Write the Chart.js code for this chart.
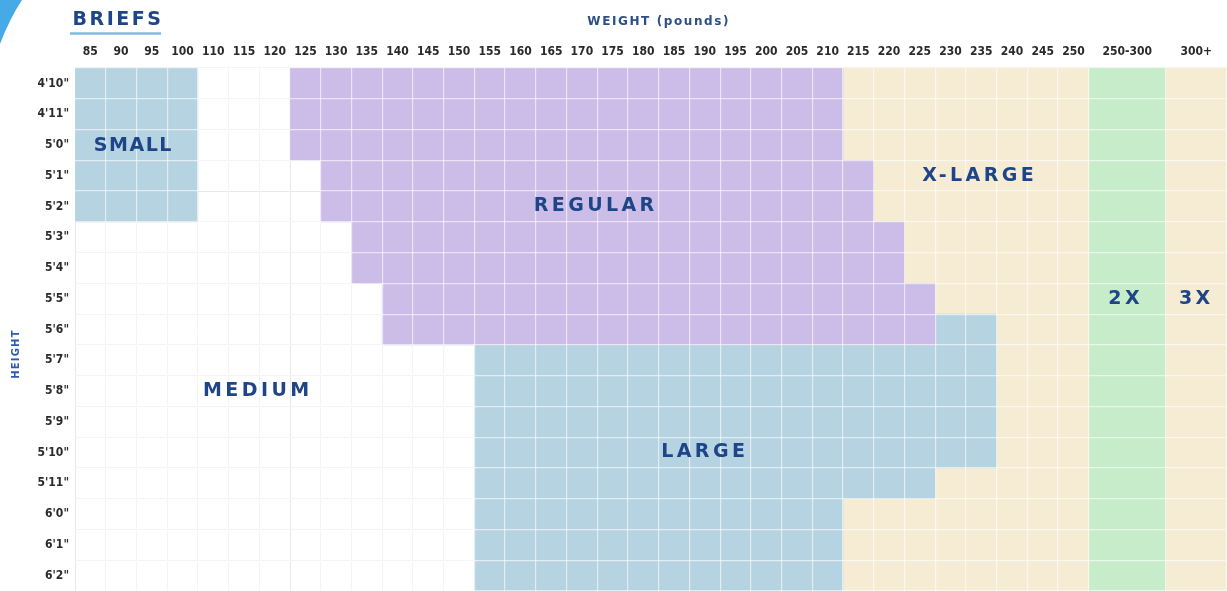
<!DOCTYPE html>
<html>
<head>
<meta charset="utf-8">
<title>Briefs size chart</title>
<script src="https://cdn.jsdelivr.net/npm/chart.js@4.4.1/dist/chart.umd.min.js"></script>
<style>
  html, body { margin: 0; padding: 0; background: #fff; }
  #wrap { width: 1227px; height: 591px; position: relative; }
</style>
</head>
<body>
<div id="wrap"><canvas id="sizeChart"></canvas></div>
<script>
// rows (top to bottom)
const heights = ["4'10\"", "4'11\"", "5'0\"", "5'1\"", "5'2\"", "5'3\"", "5'4\"", "5'5\"", "5'6\"",
  "5'7\"", "5'8\"", "5'9\"", "5'10\"", "5'11\"", "6'0\"", "6'1\"", "6'2\""];

// weight columns, left to right
const weightLabels = ['85', '90', '95', '100', '110', '115', '120', '125', '130', '135', '140', '145',
  '150', '155', '160', '165', '170', '175', '180', '185', '190', '195', '200', '205', '210', '215',
  '220', '225', '230', '235', '240', '245', '250', '250-300', '300+'];

// column edges in "column units" (the last two columns are wider)
const columnEdges = [0, 1, 2, 3, 4, 5, 6, 7, 8, 9, 10, 11, 12, 13, 14, 15, 16, 17, 18, 19, 20,
  21, 22, 23, 24, 25, 26, 27, 28, 29, 30, 31, 32, 33, 35.5, 37.5];

// size ranges per height row: [first column edge, last column edge]
const small = [[0, 4], [0, 4], [0, 4], [0, 4], [0, 4], null, null, null, null,
  null, null, null, null, null, null, null, null];
const medium = [[4, 7], [4, 7], [4, 7], [4, 8], [4, 8], [0, 9], [0, 9], [0, 10], [0, 10],
  [0, 13], [0, 13], [0, 13], [0, 13], [0, 13], [0, 13], [0, 13], [0, 13]];
const regular = [[7, 25], [7, 25], [7, 25], [8, 26], [8, 26], [9, 27], [9, 27], [10, 28], [10, 28],
  null, null, null, null, null, null, null, null];
const large = [null, null, null, null, null, null, null, null, [28, 30],
  [13, 30], [13, 30], [13, 30], [13, 30], [13, 28], [13, 25], [13, 25], [13, 25]];
const xLarge = [[25, 33], [25, 33], [25, 33], [26, 33], [26, 33], [27, 33], [27, 33], [28, 33], [30, 33],
  [30, 33], [30, 33], [30, 33], [30, 33], [28, 33], [25, 33], [25, 33], [25, 33]];
const twoX = [[33, 35.5], [33, 35.5], [33, 35.5], [33, 35.5], [33, 35.5], [33, 35.5], [33, 35.5], [33, 35.5], [33, 35.5],
  [33, 35.5], [33, 35.5], [33, 35.5], [33, 35.5], [33, 35.5], [33, 35.5], [33, 35.5], [33, 35.5]];
const threeX = [[35.5, 37.5], [35.5, 37.5], [35.5, 37.5], [35.5, 37.5], [35.5, 37.5], [35.5, 37.5], [35.5, 37.5], [35.5, 37.5], [35.5, 37.5],
  [35.5, 37.5], [35.5, 37.5], [35.5, 37.5], [35.5, 37.5], [35.5, 37.5], [35.5, 37.5], [35.5, 37.5], [35.5, 37.5]];

// size names written inside the grid, anchored at (column, row)
const regionNames = ['SMALL', 'MEDIUM', 'REGULAR', 'LARGE', 'X-LARGE', '2X', '3X'];
const regionCols = [1.9, 5.95, 16.95, 20.5, 29.45, 34.2, 36.5];
const regionRows = [2.05, 10, 4, 12, 3, 7, 7];

const tickCenters = weightLabels.map((_, i) => (columnEdges[i] + columnEdges[i + 1]) / 2);

const navy = '#1f4589';
const tickFont = { family: "'Liberation Sans Narrow', 'DejaVu Sans Condensed', 'Roboto Condensed', 'Liberation Sans', sans-serif", size: 12, weight: 'bold' };
const labelFamily = "'DejaVu Sans', 'Noto Sans', sans-serif";

// keep the plot area flush with the canvas edges
const noPad = s => { s.paddingTop = 0; s.paddingBottom = 0; s.paddingLeft = 0; s.paddingRight = 0; };

const sizeLabels = {
  id: 'sizeLabels',
  afterDraw(chart) {
    const { ctx, scales: { x, y } } = chart;
    ctx.save();

    // corner swoosh
    ctx.fillStyle = '#46aae6';
    ctx.beginPath();
    ctx.moveTo(0, 0);
    ctx.lineTo(22, 0);
    ctx.quadraticCurveTo(10, 18, 0, 44);
    ctx.closePath();
    ctx.fill();

    ctx.textAlign = 'center';
    ctx.textBaseline = 'middle';
    ctx.fillStyle = navy;

    // BRIEFS header with underline
    ctx.font = 'bold 19px ' + labelFamily;
    ctx.letterSpacing = '2.5px';
    ctx.fillText('BRIEFS', 118, 20);
    ctx.strokeStyle = '#7cbde2';
    ctx.lineWidth = 2.5;
    ctx.beginPath();
    ctx.moveTo(70, 33.5);
    ctx.lineTo(161, 33.5);
    ctx.stroke();

    // axis titles
    ctx.fillStyle = '#2c4f88';
    ctx.font = 'bold 12px ' + labelFamily;
    ctx.letterSpacing = '1.6px';
    ctx.fillText('WEIGHT (pounds)', x.getPixelForValue(19), 22);

    ctx.save();
    ctx.translate(16, y.getPixelForValue(8.8));
    ctx.rotate(-Math.PI / 2);
    ctx.fillStyle = '#2c5cae';
    ctx.font = 'bold 10px ' + labelFamily;
    ctx.letterSpacing = '1.2px';
    ctx.fillText('HEIGHT', 0, 0);
    ctx.restore();

    // size names
    ctx.fillStyle = navy;
    ctx.font = 'bold 19px ' + labelFamily;
    regionNames.forEach((name, i) => {
      ctx.letterSpacing = name === 'SMALL' ? '1.5px' : '3.4px';
      ctx.fillText(name, x.getPixelForValue(regionCols[i]), y.getPixelForValue(regionRows[i]));
    });
    ctx.restore();
  }
};

const barSet = (label, data, color) => ({
  label: label,
  data: data,
  backgroundColor: color,
  xAxisID: 'x',
  yAxisID: 'y'
});

const ctx = document.getElementById('sizeChart').getContext('2d');
const sizeChart = new Chart(ctx, {
  type: 'bar',
  data: {
    labels: heights,
    datasets: [
      barSet('Medium', medium, 'rgba(255,255,255,0)'),
      barSet('Small', small, '#b5d3e0'),
      barSet('Regular', regular, '#cbbce8'),
      barSet('Large', large, '#b5d3e0'),
      barSet('X-Large', xLarge, '#f6ecd4'),
      barSet('2X', twoX, '#c6ecca'),
      barSet('3X', threeX, '#f6ecd4')
    ]
  },
  options: {
    indexAxis: 'y',
    responsive: true,
    maintainAspectRatio: false,
    animation: false,
    layout: { padding: 0 },
    datasets: {
      bar: { grouped: false, barPercentage: 1, categoryPercentage: 1, borderWidth: 0, borderSkipped: false }
    },
    plugins: {
      legend: { display: false },
      tooltip: { enabled: false },
      title: { display: false }
    },
    scales: {
      x: {
        type: 'linear',
        position: 'top',
        min: 0,
        max: 37.5,
        afterBuildTicks: s => { s.ticks = tickCenters.map(v => ({ value: v })); },
        afterFit: s => { s.height = 68; noPad(s); },
        ticks: {
          autoSkip: false,
          maxRotation: 0,
          padding: 9,
          color: '#2a2a2a',
          font: tickFont,
          callback: (v, i) => weightLabels[i]
        },
        grid: { display: false, drawTicks: false },
        border: { display: false }
      },
      xGridUnder: {
        type: 'linear',
        position: 'top',
        min: 0,
        max: 37.5,
        afterBuildTicks: s => { s.ticks = columnEdges.map(v => ({ value: v })); },
        afterFit: s => { s.height = 0; noPad(s); },
        ticks: { display: false },
        grid: { color: '#e4e4ea', lineWidth: 1, drawTicks: false },
        border: { display: false }
      },
      xGridOver: {
        type: 'linear',
        position: 'top',
        min: 0,
        max: 37.5,
        afterBuildTicks: s => { s.ticks = columnEdges.map(v => ({ value: v })); },
        afterFit: s => { s.height = 0; noPad(s); },
        ticks: { display: false },
        grid: { color: 'rgba(255,255,255,0.6)', lineWidth: 1.2, drawTicks: false, z: 1 },
        border: { display: false }
      },
      y: {
        type: 'category',
        position: 'left',
        offset: true,
        afterFit: s => { s.width = 75; noPad(s); },
        ticks: { color: '#2a2a2a', font: tickFont, padding: 6 },
        grid: { display: false, drawTicks: false, offset: true },
        border: { display: false }
      },
      yGridUnder: {
        type: 'category',
        position: 'left',
        labels: heights,
        offset: true,
        afterFit: s => { s.width = 0; noPad(s); },
        ticks: { display: false },
        grid: { color: '#e4e4ea', lineWidth: 1, drawTicks: false, offset: true },
        border: { display: false }
      },
      yGridOver: {
        type: 'category',
        position: 'left',
        labels: heights,
        offset: true,
        afterFit: s => { s.width = 0; noPad(s); },
        ticks: { display: false },
        grid: { color: 'rgba(255,255,255,0.6)', lineWidth: 1.2, drawTicks: false, offset: true, z: 1 },
        border: { display: false }
      }
    }
  },
  plugins: [sizeLabels]
});
</script>
</body>
</html>
